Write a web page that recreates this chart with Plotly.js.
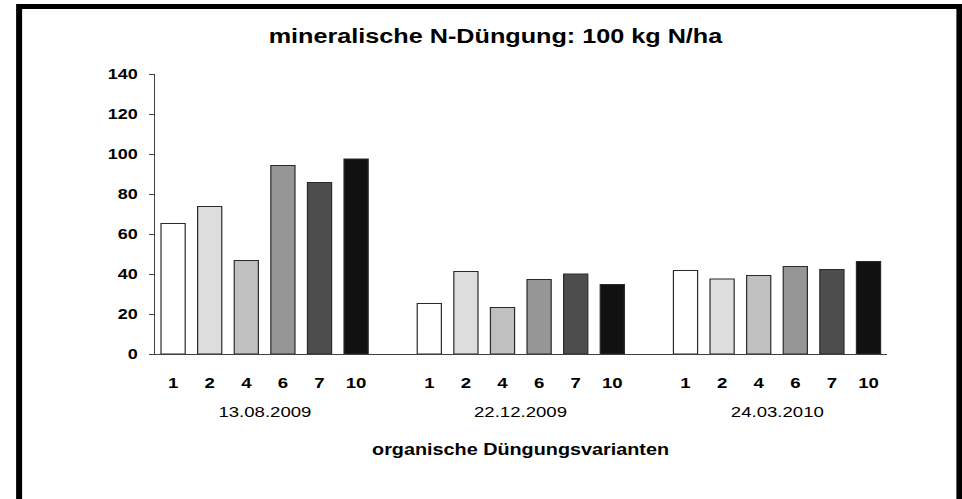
<!DOCTYPE html>
<html>
<head>
<meta charset="utf-8">
<script src="https://cdn.plot.ly/plotly-3.0.1.min.js"></script>
<style>
html,body{margin:0;padding:0;background:#fff;overflow:hidden;}
#wrap{width:962px;height:499px;overflow:hidden;}
#chart{transform-origin:0 0;}
</style>
</head>
<body>
<div id="wrap"><div id="chart"></div></div>
<script>
const dates = ['13.08.2009', '22.12.2009', '24.03.2010'];
const variants = ['1', '2', '4', '6', '7', '10'];
const colors = ['#ffffff', '#dddddd', '#c0c0c0', '#969696', '#4d4d4d', '#111111'];
// values per variant across the three dates
const v1  = [65.3, 25.3, 41.7];
const v2  = [73.8, 41.2, 37.5];
const v4  = [46.7, 23.3, 39.3];
const v6  = [94.3, 37.2, 43.8];
const v7  = [85.8, 40.0, 42.2];
const v10 = [97.5, 34.8, 46.3];
const series = [v1, v2, v4, v6, v7, v10];
const yTicks = [0, 20, 40, 60, 80, 100, 120, 140];

// horizontal stretch of the reference rendering
const S = 1.2;
const W = 962 / S;
document.getElementById('chart').style.transform = 'scale(' + S + ',1)';

const FONT = 'Liberation Sans, Arial, Helvetica, sans-serif';
const slotsPerGroup = variants.length + 1;
const traces = series.map((vals, i) => ({
  type: 'bar',
  name: variants[i],
  x: dates.map((d, g) => g * slotsPerGroup + i),
  y: vals,
  width: 0.66,
  marker: {color: colors[i], line: {color: '#2a2a2a', width: 1}},
  hoverinfo: 'y',
  showlegend: false
}));

const tickvals = [], ticktext = [];
dates.forEach((d, g) => variants.forEach((v, i) => { tickvals.push(g * slotsPerGroup + i); ticktext.push(v); }));

const annotations = dates.map((d, g) => ({
  text: d, xref: 'x', yref: 'paper', x: g * slotsPerGroup + (variants.length - 1) / 2,
  y: -0.207, yanchor: 'middle', showarrow: false,
  font: {family: FONT, size: 15.5, color: '#000'}
}));
annotations.push({
  text: 'organische Düngungsvarianten', xref: 'x', yref: 'paper',
  x: 1 * slotsPerGroup + (variants.length - 1) / 2, y: -0.339, yanchor: 'middle', showarrow: false,
  font: {family: FONT, size: 16.5, color: '#000', weight: 'bold'}
});

const pxL = 155, pxR = 886, pxT = 74, pxB = 354;
const plotW = pxR - pxL, plotH = pxB - pxT;
const layout = {
  width: W, height: 499,
  margin: {l: pxL / S, r: (962 - pxR) / S, t: pxT, b: 499 - pxB, pad: 0},
  paper_bgcolor: '#fff', plot_bgcolor: '#fff',
  title: {text: 'mineralische N-Düngung: 100 kg N/ha', xref: 'container', yref: 'container',
    x: 495.5 / 962, xanchor: 'center', y: 1 - 36 / 499, yanchor: 'middle',
    font: {family: FONT, size: 21, color: '#000', weight: 'bold'}},
  xaxis: {
    range: [-0.5, 3 * slotsPerGroup - 1.5], tickmode: 'array', tickvals: tickvals, ticktext: ticktext,
    showgrid: false, zeroline: false, showline: true, linecolor: '#404040', linewidth: 1.3,
    ticks: '', ticklen: 0, ticklabelstandoff: 14,
    tickfont: {family: FONT, size: 15.5, color: '#000', weight: 'bold'},
    fixedrange: true
  },
  yaxis: {
    range: [0, 140], tickmode: 'array', tickvals: yTicks,
    showgrid: false, zeroline: false, showline: true, linecolor: '#404040', linewidth: 1,
    ticks: 'outside', ticklen: 5 / S, tickcolor: '#404040', tickwidth: 1, ticklabelstandoff: 6,
    tickfont: {family: FONT, size: 15, color: '#000', weight: 'bold'},
    fixedrange: true
  },
  bargap: 0,
  barmode: 'overlay',
  annotations: annotations,
  shapes: [{
    type: 'rect', xref: 'paper', yref: 'paper',
    x0: (19.5 - pxL) / plotW, x1: (958.5 - pxL) / plotW,
    y0: (pxB - 515) / plotH, y1: (pxB - 6.5) / plotH,
    line: {color: '#000', width: 5}, fillcolor: 'rgba(0,0,0,0)', layer: 'above'
  }]
};

Plotly.newPlot('chart', traces, layout, {displayModeBar: false, staticPlot: true});
</script>
</body>
</html>
